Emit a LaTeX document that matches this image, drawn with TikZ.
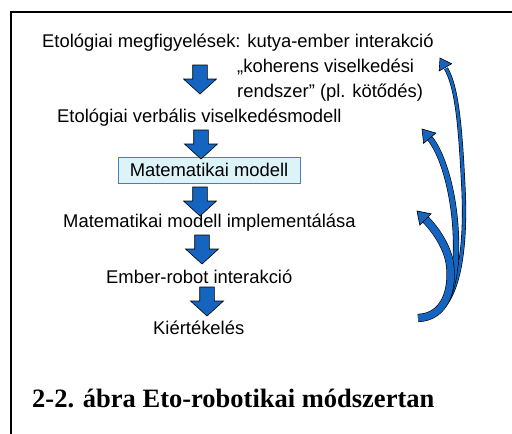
\documentclass[tikz,border=0pt]{standalone}
\usepackage{fontspec}
\setmainfont{Liberation Sans}
\newfontfamily\captionfont{Liberation Serif}
\definecolor{arrblue}{RGB}{21,101,192}
\definecolor{boxfill}{RGB}{221,243,250}
\definecolor{boxline}{RGB}{74,126,187}

\begin{document}
\begin{tikzpicture}[x=1pt,y=-1pt]
	\tikzset{txt/.style={anchor=base west, inner sep=0pt,
				font=\fontsize{18.4}{25}\selectfont}}
	\tikzset{dnarr/.pic={\filldraw[draw=black, fill=arrblue, line width=0.6pt]
				(-7.3,-14) -- (7.3,-14) -- (7.3,0) -- (16.5,0) -- (0,15)
				-- (-16.5,0) -- (-7.3,0) -- cycle;}}
	\tikzset{mbox/.style={draw=boxline, fill=boxfill, line width=1pt,
				minimum width=182pt, minimum height=26pt, inner sep=0pt,
				font=\fontsize{18.4}{25}\selectfont}}
	\tikzset{cband/.style={line width=0.6pt, double=arrblue, double distance=#1}}
	\tikzset{chead/.pic={\filldraw[draw=black, fill=arrblue, line width=0.6pt]
				(0,0) -- (-12,8) -- (-12,-8) -- cycle;}}

	\useasboundingbox (0,0) rectangle (512,434);
	\draw[line width=1.5pt] (11,434) -- (11,12) -- (512,12);

	% steps
	\node[txt] (obs) at (42,47) {Etológiai megfigyelések: kutya-ember interakció};
	\node[txt, align=left] (koh) at (237,97) {„koherens viselkedési\\rendszer” (pl. kötődés)};
	\node[txt] (verb) at (57,122) {Etológiai verbális viselkedésmodell};
	\node[mbox] (mat) at (209,170) {Matematikai modell};
	\node[txt] (impl) at (63,227) {Matematikai modell implementálása};
	\node[txt] (robot) at (106,283) {Ember-robot interakció};
	\node[txt] (eval) at (153,334) {Kiértékelés};

	\pic (d1) at (200,79) {dnarr};
	\pic (d2) at (201,144) {dnarr};
	\pic (d3) at (200,201) {dnarr};
	\pic (d4) at (202,249) {dnarr};
	\pic (d5) at (207,301) {dnarr};

	% curved feedback arrows
	\coordinate (s1) at (424,316);
	\coordinate (b1) at (446,68.4);
	\coordinate (t1) at (440,58);
	\coordinate (s2) at (420,317);
	\coordinate (b2) at (429.7,138.2);
	\coordinate (t2) at (422,129);
	\coordinate (s3) at (418,318);
	\coordinate (b3) at (425.5,219.5);
	\coordinate (t3) at (417,211);

	\draw[cband=3pt] (s1) .. controls (455,316) and (468,260) .. (463,180)
		.. controls (460,120) and (456,85.7) .. (b1);
	\pic[rotate=120, scale=0.9] at (t1) {chead};
	\draw[cband=5pt] (s2) .. controls (447,317) and (457,285) .. (456,240)
		.. controls (455,195) and (443,154) .. (b2);
	\pic[rotate=130] at (t2) {chead};
	\draw[cband=7pt] (s3) .. controls (445,317) and (453,290) .. (450,265)
		.. controls (448,248) and (436,230) .. (b3);
	\pic[rotate=135] at (t3) {chead};

	\node[anchor=base west, inner sep=0pt,
		font=\captionfont\bfseries\fontsize{26.5}{30}\selectfont] (capt) at (32,407)
		{2-2. ábra Eto-robotikai módszertan};
\end{tikzpicture}
\end{document}
